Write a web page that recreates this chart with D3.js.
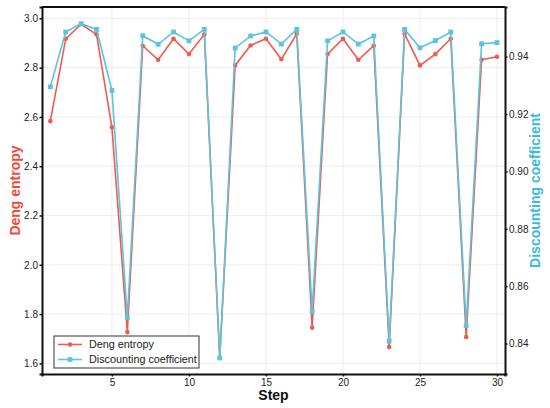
<!DOCTYPE html>
<html>
<head>
<meta charset="utf-8">
<script src="https://cdn.jsdelivr.net/npm/d3@7"></script>
<style>
  body { margin: 0; background: #fff; }
  svg { font-family: "Liberation Sans", Arial, sans-serif; }
</style>
</head>
<body>
<div id="chart"></div>
<script>
// data
var steps = d3.range(1, 31);
var dengEntropy = [2.583, 2.917, 2.976, 2.935, 2.558, 1.727, 2.889, 2.832, 2.917, 2.855,
                   2.935, 1.622, 2.809, 2.890, 2.917, 2.834, 2.937, 1.745, 2.855, 2.917,
                   2.832, 2.889, 1.667, 2.937, 2.809, 2.855, 2.917, 1.707, 2.832, 2.844];
var discounting = [0.9295, 0.9486, 0.9515, 0.9495, 0.9282, 0.8491, 0.9473, 0.9443, 0.9486, 0.9455,
                   0.9495, 0.8350, 0.9430, 0.9472, 0.9486, 0.9444, 0.9495, 0.8513, 0.9455, 0.9486,
                   0.9444, 0.9472, 0.8409, 0.9495, 0.9431, 0.9456, 0.9486, 0.8463, 0.9445, 0.9449];
var xTicks = [5, 10, 15, 20, 25, 30];
var leftTicks = [1.6, 1.8, 2.0, 2.2, 2.4, 2.6, 2.8, 3.0];
var rightTicks = [0.84, 0.86, 0.88, 0.90, 0.92, 0.94];

var red = "#ef5b50", cyan = "#5cc4dc";

var W = 550, H = 408;
var m = {left: 42, right: 45, top: 7, bottom: 34};

var svg = d3.select("#chart").append("svg")
    .attr("width", W).attr("height", H);

var x = d3.scaleLinear().domain([0.46, 30.52]).range([m.left, W - m.right]);
var yL = d3.scaleLinear().domain([1.557, 3.046]).range([H - m.bottom, m.top]);
var yR = d3.scaleLinear().domain([0.8294, 0.9573]).range([H - m.bottom, m.top]);

//grid
var grid = svg.append("g").attr("stroke", "#e9e9e9").attr("stroke-width", 0.8);
grid.selectAll("line.gx").data(xTicks).enter().append("line")
    .attr("x1", d => x(d)).attr("x2", d => x(d))
    .attr("y1", m.top).attr("y2", H - m.bottom);
grid.selectAll("line.gy").data(leftTicks).enter().append("line")
    .attr("x1", m.left).attr("x2", W - m.right)
    .attr("y1", d => yL(d)).attr("y2", d => yL(d));

//axes
var axX = svg.append("g").attr("transform", "translate(0," + (H - m.bottom) + ")")
    .call(d3.axisBottom(x).tickValues(xTicks).tickSize(2.5).tickPadding(2));
var axL = svg.append("g").attr("transform", "translate(" + m.left + ",0)")
    .call(d3.axisLeft(yL).tickValues(leftTicks).tickFormat(d3.format(".1f")).tickSize(2.5).tickPadding(1.5));
var axR = svg.append("g").attr("transform", "translate(" + (W - m.right) + ",0)")
    .call(d3.axisRight(yR).tickValues(rightTicks).tickFormat(d3.format(".2f")).tickSize(2.5).tickPadding(1.5));
[axX, axL, axR].forEach(function(a) {
    a.selectAll("text").attr("font-size", 10).attr("fill", "#222");
    a.selectAll(".tick line").attr("stroke", "#111").attr("stroke-width", 1.5);
    a.select(".domain").attr("stroke", "#111").attr("stroke-width", 2);
});

//top border
svg.append("line")
    .attr("x1", m.left).attr("x2", W - m.right)
    .attr("y1", m.top).attr("y2", m.top)
    .attr("stroke", "#111").attr("stroke-width", 2);

//series
var lineL = d3.line().x((d, i) => x(steps[i])).y(d => yL(d));
var lineR = d3.line().x((d, i) => x(steps[i])).y(d => yR(d));

svg.append("path").datum(dengEntropy)
    .attr("d", lineL).attr("fill", "none").attr("stroke", red).attr("stroke-width", 1.6);
svg.selectAll("circle.deng").data(dengEntropy).enter().append("circle")
    .attr("class", "deng")
    .attr("cx", (d, i) => x(steps[i])).attr("cy", d => yL(d))
    .attr("r", 2.3).attr("fill", red);

svg.append("path").datum(discounting)
    .attr("d", lineR).attr("fill", "none").attr("stroke", cyan).attr("stroke-width", 1.6);
svg.selectAll("rect.disc").data(discounting).enter().append("rect")
    .attr("class", "disc")
    .attr("x", (d, i) => x(steps[i]) - 2.4).attr("y", d => yR(d) - 2.4)
    .attr("width", 4.8).attr("height", 4.8).attr("fill", cyan);

//axis titles
svg.append("text")
    .attr("transform", "translate(20," + ((m.top + H - m.bottom) / 2) + ") rotate(-90)")
    .attr("text-anchor", "middle").attr("font-size", 14).attr("font-weight", "bold")
    .attr("fill", "#ee4a3c").text("Deng entropy");
svg.append("text")
    .attr("transform", "translate(540," + ((m.top + H - m.bottom) / 2) + ") rotate(-90)")
    .attr("text-anchor", "middle").attr("font-size", 14).attr("font-weight", "bold")
    .attr("fill", "#3fb9d9").text("Discounting coefficient");
svg.append("text")
    .attr("x", (m.left + W - m.right) / 2).attr("y", 400)
    .attr("text-anchor", "middle").attr("font-size", 14).attr("font-weight", "bold")
    .attr("fill", "#111").text("Step");

//legend
var legend = [{name: "Deng entropy", color: red, shape: "circle"},
              {name: "Discounting coefficient", color: cyan, shape: "square"}];
var lg = svg.append("g").attr("transform", "translate(54,336)");
lg.append("rect").attr("width", 145).attr("height", 32)
    .attr("fill", "#fff").attr("stroke", "#333").attr("stroke-width", 1);
var item = lg.selectAll("g.item").data(legend).enter().append("g")
    .attr("transform", (d, i) => "translate(0," + (8.5 + i * 15) + ")");
item.append("line").attr("x1", 4).attr("x2", 28)
    .attr("stroke", d => d.color).attr("stroke-width", 1.6);
item.filter(d => d.shape == "circle").append("circle")
    .attr("cx", 16).attr("r", 2.3).attr("fill", d => d.color);
item.filter(d => d.shape == "square").append("rect")
    .attr("x", 13.6).attr("y", -2.4).attr("width", 4.8).attr("height", 4.8).attr("fill", d => d.color);
item.append("text").attr("x", 35).attr("dy", "0.35em")
    .attr("font-size", 10.8).attr("fill", "#222").text(d => d.name);
</script>
</body>
</html>
